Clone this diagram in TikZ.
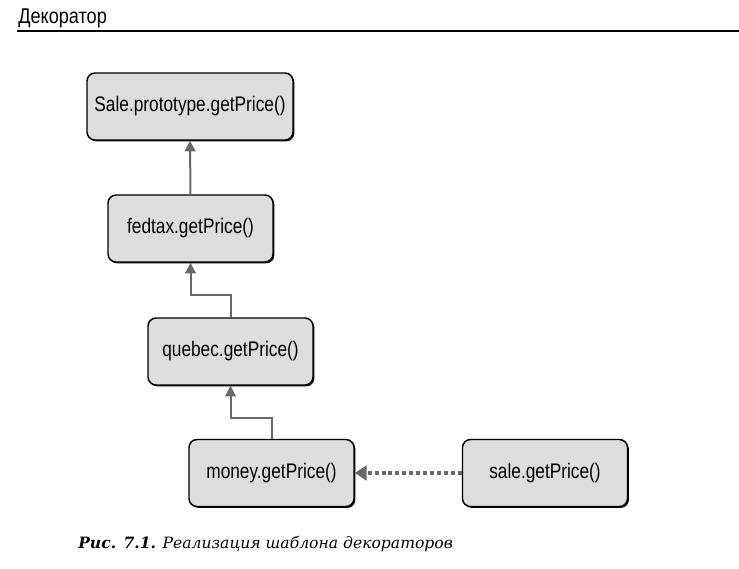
\documentclass[tikz,border=0pt]{standalone}
\usepackage{fontspec}
\setmainfont{DejaVu Serif}
\newfontfamily\boxfont[FakeStretch=0.82]{Liberation Sans}
\newfontfamily\headfont[FakeStretch=0.85]{Liberation Sans}
\usetikzlibrary{arrows.meta,shadows}
\definecolor{boxgray}{RGB}{221,221,222}
\definecolor{linkgray}{RGB}{104,104,106}

\begin{document}
\begin{tikzpicture}[x=0.75pt, y=-0.75pt,
  method/.style={draw=black, fill=boxgray, rounded corners=6pt, line width=1.1pt,
                 minimum width=123.75pt, minimum height=50.25pt,
                 font=\boxfont\fontsize{15.8}{18}\selectfont,
                 drop shadow={shadow xshift=1pt, shadow yshift=-1pt,
                              fill=black, opacity=1}},
  link/.style={draw=linkgray, line width=1.5pt,
               -{Triangle[length=8pt, width=8pt]}},
  ]

\useasboundingbox (0,0) rectangle (739,568);

% ----------------------------------------------------------------------
% Page header
% ----------------------------------------------------------------------
\node[anchor=base west, inner sep=0pt, font=\headfont\fontsize{16}{18}\selectfont]
  (header) at (18,23) {Декоратор};
\draw[line width=0.8pt] (17,31) -- (739,31);

% ----------------------------------------------------------------------
% Chain of decorated methods
% ----------------------------------------------------------------------
\node[method, minimum width=154.5pt] (proto)  at (190,106.5) {Sale.prototype.getPrice()};
\node[method] (fedtax) at (190.5,228.5) {fedtax.getPrice()};
\node[method] (quebec) at (230.5,351.5) {quebec.getPrice()};
\node[method] (money)  at (271.5,473)   {money.getPrice()};
\node[method] (sale)   at (545,473)     {sale.getPrice()};

% connectors
\draw[link] (fedtax.north) -- (proto.south);
\draw[link] (quebec.north) -- ++(0,-22) -| (fedtax.south);
\draw[link] (money.north) -- ++(0,-21) -| (quebec.south);
\draw[draw=linkgray, line width=3.2pt, dash pattern=on 3pt off 2.2pt,
      -{Triangle[length=9pt, width=11pt]}]
  (sale.west) -- (money.east);

% ----------------------------------------------------------------------
% Caption
% ----------------------------------------------------------------------
\node[anchor=base west, inner sep=0pt, font=\fontsize{11.7}{14}\selectfont\itshape]
  (caption) at (78,548)
  {\textbf{Рис. 7.1.} Реализация шаблона декораторов};

\end{tikzpicture}
\end{document}
